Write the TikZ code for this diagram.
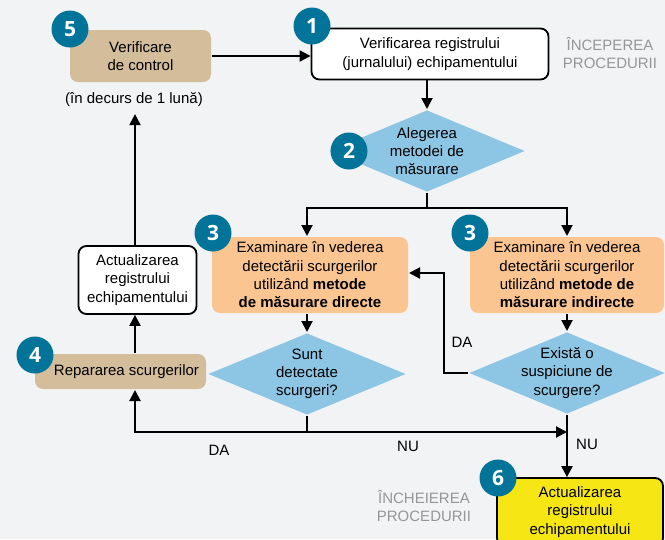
\documentclass[tikz,border=0pt]{standalone}
\usepackage{fontspec}
\setmainfont{Liberation Sans}
\newfontfamily\numfont{Open Sans}
\usetikzlibrary{shapes.geometric,arrows.meta}

\definecolor{bgcol}{RGB}{242,243,244}
\definecolor{tancol}{RGB}{211,189,155}
\definecolor{orangecol}{RGB}{250,197,145}
\definecolor{bluecol}{RGB}{141,198,228}
\definecolor{yellowcol}{RGB}{245,230,20}
\definecolor{tealcol}{RGB}{2,115,153}
\definecolor{labelgray}{RGB}{150,150,150}

\tikzset{
  box/.style={rectangle,rounded corners=8pt,align=center,inner sep=0pt},
  wbox/.style={box,draw=black,line width=1.8pt,fill=white},
  dia/.style={diamond,fill=bluecol,inner sep=0pt},
  numc/.style={circle,fill=tealcol,text=white,minimum size=37pt,inner sep=0pt,
    font=\numfont\bfseries\fontsize{21}{21}\selectfont},
  arr/.style={-{Triangle[length=11pt,width=11pt]}},
  gtext/.style={text=labelgray,align=center}
}

\begin{document}
\begin{tikzpicture}[x=1pt,y=-1pt,line width=2pt,font=\fontsize{15}{18.3}\selectfont]
    \clip (0,0) rectangle (665,539);
    \fill[bgcol] (0,0) rectangle (665,539);

    % top row
    \node[box,fill=tancol,minimum width=141pt,minimum height=52pt] (n5) at (140.5,56) {Verificare\\de control};
    \node[inner sep=6pt] (note) at (134,100) {(în decurs de 1 lună)};
    \node[wbox,minimum width=237pt,minimum height=51pt] (n1) at (430,54) {Verificarea registrului\\(jurnalului) echipamentului};
    \node[gtext] (start) at (610,53) {ÎNCEPEREA\\PROCEDURII};

    % choice of method
    \node[dia,minimum width=196pt,minimum height=82pt,
      label={[align=center]center:Alegerea\\metodei de\\măsurare}] (d2) at (427,151) {};
    \coordinate (j2) at (427,208);

    % the two examinations
    \node[box,fill=orangecol,minimum width=196pt,minimum height=76pt] (n3l) at (310,275)
      {Examinare în vederea\\detectării scurgerilor\\utilizând \textbf{metode}\\\textbf{de măsurare directe}};
    \node[box,fill=orangecol,minimum width=194pt,minimum height=76pt] (n3r) at (567,275)
      {Examinare în vederea\\detectării scurgerilor\\utilizând \textbf{metode de}\\\textbf{măsurare indirecte}};
    \node[dia,minimum width=198pt,minimum height=82pt,
      label={[align=center]center:Sunt\\detectate\\scurgeri?}] (d3l) at (307,374) {};
    \node[dia,minimum width=196pt,minimum height=82pt,
      label={[align=center]center:Există o\\suspiciune de\\scurgere?}] (d3r) at (567,373) {};

    % left side
    \node[wbox,minimum width=118pt,minimum height=68pt] (nact) at (137.5,280) {Actualizarea\\registrului\\echipamentului};
    \node[box,fill=tancol,minimum width=171pt,minimum height=35pt] (n4) at (120.5,371.5) {\hspace{12pt}Repararea scurgerilor};

    % end
    \node[wbox,fill=yellowcol,minimum width=166pt,minimum height=68pt] (n6) at (580,512) {Actualizarea\\registrului\\echipamentului};
    \node[gtext] (stop) at (424,506) {ÎNCHEIEREA\\PROCEDURII};

    % connectors
    \draw[arr] (n5.east) -- (n5.east -| n1.west);
    \draw[arr] (n1.south -| d2) -- (d2.north);
    \draw (d2.south) -- (j2);
    \draw[arr] (j2) -| (n3l.north -| d3l);
    \draw[arr] (j2) -| (n3r.north -| d3r);
    \draw[arr] (n3l.south -| d3l) -- (d3l.north);
    \draw[arr] (n3r.south -| d3r) -- (d3r.north);
    \coordinate (jb) at (307,432);
    \draw (d3l.south) -- (jb);
    \draw[arr] (jb) -| (n4.south -| 135,0);
    \draw[arr] (jb) -- (jb -| d3r);
    \draw[arr] (d3r.south) -- (n6.north -| d3r);
    \coordinate (da) at (444,273);
    \draw[arr] (d3r.west) -| (da) -- (da -| n3l.east);
    \draw[arr] (n4.north -| 135,0) -- (nact.south -| 135,0);
    \draw[arr] (nact.north -| 135,0) -- (note.south -| 135,0);

    \node (lda1) at (219,450) {DA};
    \node (lnu1) at (408,446) {NU};
    \node (lnu2) at (587,444) {NU};
    \node (lda2) at (462,342) {DA};

    % numbers
    \node[numc] (c5) at (70,29) {5};
    \node[numc] (c1) at (312,26) {1};
    \node[numc] (c2) at (349,151) {2};
    \node[numc] (c3l) at (213,233) {3};
    \node[numc] (c3r) at (470,233) {3};
    \node[numc] (c4) at (35,355) {4};
    \node[numc] (c6) at (498,478) {6};
\end{tikzpicture}
\end{document}
